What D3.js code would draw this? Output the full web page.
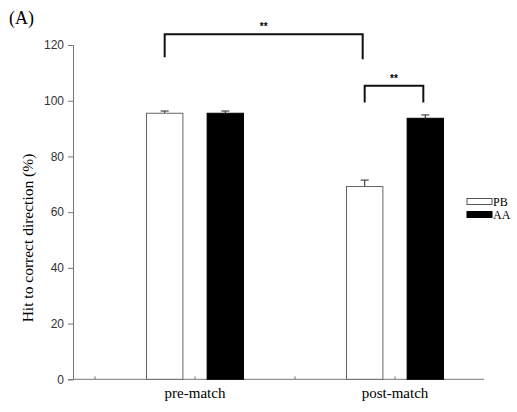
<!DOCTYPE html>
<html>
<head>
<meta charset="utf-8">
<script src="https://cdn.jsdelivr.net/npm/d3@7"></script>
<style>
  body { margin: 0; background: #fff; }
</style>
</head>
<body>
<div id="chart"></div>
<script>
const width = 517, height = 412;

// data
const groups = ["pre-match", "post-match"];
const series = ["PB", "AA"];
const pbValues = [95.5, 69.2];
const aaValues = [95.5, 93.7];
const pbErrors = [0.8, 2.3];
const aaErrors = [0.8, 1.2];
const yTicks = [0, 20, 40, 60, 80, 100, 120];
// significance brackets: [group, series] to [group, series], bar height and leg ends in y units
const brackets = [
    { a: ["pre-match", "PB"], b: ["post-match", "PB"], top: 123.9, legA: 115.6, legB: 114.9, label: "**" },
    { a: ["post-match", "PB"], b: ["post-match", "AA"], top: 105.4, legA: 99.4, legB: 99.4, label: "**" }
];

const values = { PB: pbValues, AA: aaValues };
const errors = { PB: pbErrors, AA: aaErrors };
const fills = { PB: "#fff", AA: "#000" };

const svg = d3.select("#chart")
    .append("svg")
    .attr("width", width)
    .attr("height", height);

const y = d3.scaleLinear().domain([0, 120]).range([379.3, 45]);
const x0 = d3.scaleBand().domain(groups).range([95, 495]);
const x1 = d3.scaleBand().domain(series).range([51.5, 148.5]).paddingInner(0.4);
const barCenter = (g, s) => x0(g) + x1(s) + x1.bandwidth() / 2;

const serif = "'Liberation Serif', 'Times New Roman', serif";
const sans = "'Liberation Sans', Arial, sans-serif";

// panel letter
svg.append("text")
    .attr("x", 9).attr("y", 24)
    .attr("font-family", serif).attr("font-size", 18)
    .text("(A)");

// y axis
const yAxis = svg.append("g")
    .attr("transform", "translate(73,0)")
    .call(d3.axisLeft(y).tickValues(yTicks).tickSize(5).tickPadding(4));
yAxis.select(".domain").attr("stroke", "#777");
yAxis.selectAll(".tick line").attr("stroke", "#777");
yAxis.selectAll(".tick text")
    .attr("font-family", sans).attr("font-size", 12).attr("fill", "#333");

// x axis line with small upward ticks at band edges and centres
svg.append("line")
    .attr("x1", 73).attr("x2", 484)
    .attr("y1", y(0)).attr("y2", y(0))
    .attr("stroke", "#777");
const xTicks = groups.flatMap(g => [x0(g), x0(g) + x0.bandwidth() / 2]);
svg.selectAll(".xtick")
    .data(xTicks)
    .join("line")
    .attr("x1", d => d).attr("x2", d => d)
    .attr("y1", y(0)).attr("y2", y(0) - 3)
    .attr("stroke", "#777");

svg.selectAll(".xlabel")
    .data(groups)
    .join("text")
    .attr("x", d => x0(d) + x0.bandwidth() / 2)
    .attr("y", 398)
    .attr("text-anchor", "middle")
    .attr("font-family", serif).attr("font-size", 15)
    .text(d => d);

// y label
svg.append("text")
    .attr("transform", "translate(33,238) rotate(-90)")
    .attr("text-anchor", "middle")
    .attr("font-family", serif).attr("font-size", 15.5)
    .text("Hit to correct direction (%)");

// bars
const barData = groups.flatMap((g, i) => series.map(s => ({ g, s, v: values[s][i], e: errors[s][i] })));

// error bars (upper only)
const eb = svg.append("g").attr("stroke", "#444").attr("stroke-width", 1.2);
eb.selectAll(".ev")
    .data(barData)
    .join("line")
    .attr("x1", d => barCenter(d.g, d.s)).attr("x2", d => barCenter(d.g, d.s))
    .attr("y1", d => y(d.v)).attr("y2", d => y(d.v + d.e));
eb.selectAll(".ec")
    .data(barData)
    .join("line")
    .attr("x1", d => barCenter(d.g, d.s) - 4).attr("x2", d => barCenter(d.g, d.s) + 4)
    .attr("y1", d => y(d.v + d.e)).attr("y2", d => y(d.v + d.e));

svg.selectAll(".bar")
    .data(barData)
    .join("rect")
    .attr("x", d => x0(d.g) + x1(d.s))
    .attr("y", d => y(d.v))
    .attr("width", x1.bandwidth())
    .attr("height", d => y(0) - y(d.v))
    .attr("fill", d => fills[d.s])
    .attr("stroke", d => d.s === "PB" ? "#666" : "#000")
    .attr("stroke-width", 1);

// significance brackets
brackets.forEach(b => {
    const xa = barCenter(...b.a), xb = barCenter(...b.b) - 2;
    svg.append("path")
        .attr("d", `M${xa},${y(b.legA)}V${y(b.top)}H${xb}V${y(b.legB)}`)
        .attr("fill", "none")
        .attr("stroke", "#111")
        .attr("stroke-width", 2);
    svg.append("text")
        .attr("x", (xa + xb) / 2)
        .attr("y", y(b.top) - 4)
        .attr("text-anchor", "middle")
        .attr("font-family", sans).attr("font-size", 10).attr("font-weight", "bold")
        .text(b.label);
});

// legend
const legend = svg.append("g").attr("transform", "translate(467,198.5)");
series.forEach((s, i) => {
    legend.append("rect")
        .attr("x", 0).attr("y", i * 13)
        .attr("width", 25).attr("height", 6)
        .attr("fill", fills[s])
        .attr("stroke", s === "PB" ? "#555" : "#000");
    legend.append("text")
        .attr("x", 26).attr("y", i * 13 + 7.5)
        .attr("font-family", serif).attr("font-size", 12)
        .text(s);
});
</script>
</body>
</html>
